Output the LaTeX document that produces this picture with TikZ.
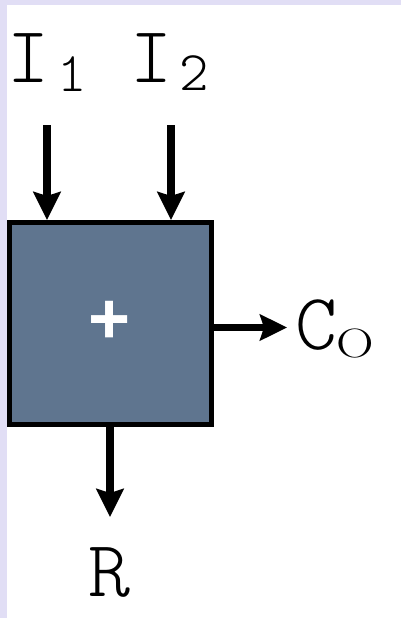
\documentclass[tikz,border=0pt]{standalone}
\usepackage{fontspec}
\usepackage{graphicx}
\newfontfamily\cour{Latin Modern Mono Light}
\newfontfamily\plusfont{Liberation Sans}
\usetikzlibrary{arrows.meta}
\definecolor{lav}{RGB}{225,222,245}
\definecolor{boxfill}{RGB}{95,117,143}
\tikzset{
  lbl/.style={anchor=base west, inner sep=0pt, outer sep=0pt, font=\cour\fontsize{80}{80}\selectfont},
  arr/.style={line width=8pt, -{Stealth[width=27pt,length=28pt,inset=4pt]}},
  arrs/.style={line width=7.5pt, -{Stealth[width=26pt,length=27pt,inset=4pt]}},
  addbox/.style={draw=black, line width=5pt, fill=boxfill, minimum width=202pt, minimum height=202pt, inner sep=0pt}
}
\begin{document}
\begin{tikzpicture}[x=1pt,y=-1pt]
\useasboundingbox (0,0) rectangle (401,618);
\fill[lav] (0,0) rectangle (401,618);
\fill[white] (7,5) rectangle (401,618);
\node[lbl] (i1) at (8,82) {I\kern7pt\raisebox{-9pt}{\fontsize{56}{56}\selectfont 1}};
\node[lbl] (i2) at (130,82) {I\kern7pt\raisebox{-8pt}{\fontsize{56}{56}\selectfont 2}};
\node[addbox] (box) at (110.5,323.5) {};
\node[inner sep=0pt, text=white, font=\plusfont\bfseries\fontsize{72}{72}\selectfont] (plus) at (110,322.5) {+};
\node[lbl] (co) at (295.5,349) {C\kern-1pt\raisebox{-8pt}{\rmfamily\fontsize{41}{41}\selectfont\scalebox{1.27}[1]{O}}};
\node[lbl] (r) at (88,596) {R};
\coordinate (a1) at (47,125);
\coordinate (a2) at (171,125);
\coordinate (cot) at (287,327.5);
\coordinate (rt) at (110,517);
\draw[arr] (a1) -- (a1 |- box.north);
\draw[arr] (a2) -- (a2 |- box.north);
\draw[arrs] (cot -| box.east) -- (cot);
\draw[arr] (rt |- box.south) -- (rt);
\end{tikzpicture}
\end{document}
